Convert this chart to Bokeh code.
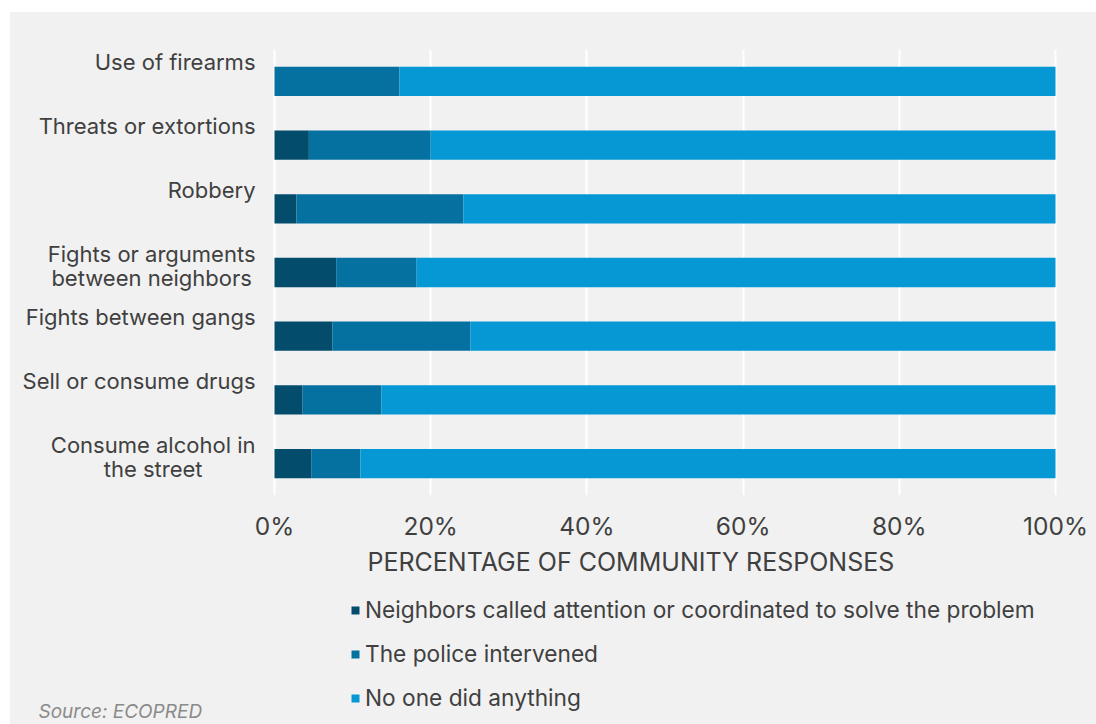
from bokeh.plotting import figure
from bokeh.models import (FactorRange, Range1d, Legend, LegendItem, Title, Label,
                          FixedTicker, PrintfTickFormatter, ColumnDataSource, Spacer)
from bokeh.layouts import column, row
from bokeh.core.properties import value
from bokeh.embed import file_html
from bokeh.resources import INLINE

# ---- data (percent of community responses) ----
categories = [
    "Use of firearms",
    "Threats or extortions",
    "Robbery",
    "Fights or arguments\nbetween neighbors",
    "Fights between gangs",
    "Sell or consume drugs",
    "Consume alcohol in\nthe street",
]
neighbors = [0.0, 4.4, 2.8, 7.9, 7.4, 3.6, 4.7]
police = [16.0, 15.6, 21.4, 10.3, 17.7, 10.1, 6.3]
no_one = [84.0, 80.0, 75.8, 81.8, 74.9, 86.3, 89.0]
series_names = [
    "Neighbors called attention or coordinated to solve the problem",
    "The police intervened",
    "No one did anything",
]
x_ticks = [0, 20, 40, 60, 80, 100]
x_title = "PERCENTAGE OF COMMUNITY RESPONSES"
source_note = "Source: ECOPRED"

colors = ["#034c6b", "#0571a0", "#0598d5"]
BG = "#f1f1f1"
TXT = "#404040"
FONT = "Inter"

W = 1086
HA, HB = 566, 146
PLOT_L, PLOT_R = 264, 1045          # pixel span of 0%..100%
px_per = (PLOT_R - PLOT_L) / 100.0

src = ColumnDataSource(dict(cat=categories, neighbors=neighbors, police=police, none=no_one,
                            zero=[0] * len(categories)))

# ---------------- main chart ----------------
p = figure(width=W, height=HA, output_backend="svg", toolbar_location=None,
           y_range=FactorRange(factors=list(reversed(categories))),
           x_range=Range1d(-PLOT_L / px_per, (W - PLOT_L) / px_per),
           min_border_left=0, min_border_right=0, min_border_top=37, min_border_bottom=0)
p.background_fill_color = None
p.border_fill_color = BG
p.outline_line_color = None

rs = p.hbar_stack(["neighbors", "police", "none"], y="cat", height=0.46, source=src,
                  fill_color=colors, line_color=None)

p.ygrid.visible = False
p.xgrid.ticker = FixedTicker(ticks=x_ticks)
p.xgrid.grid_line_color = "white"
p.xgrid.grid_line_width = 2
p.xgrid.level = "underlay"

p.yaxis.visible = False
ax = p.xaxis[0]
ax.ticker = FixedTicker(ticks=x_ticks)
ax.formatter = PrintfTickFormatter(format="%d%%")
ax.axis_line_color = None
ax.major_tick_line_color = None
ax.minor_tick_line_color = None
ax.major_tick_out = 0
ax.major_tick_in = 0
ax.major_label_standoff = 15
ax.major_label_text_font = FONT
ax.major_label_text_font_size = "24.5px"
ax.major_label_text_color = TXT

# category labels (above each bar, ending left of the 0% line)
p.text(x="zero", y="cat", text="cat", source=src, x_offset=-19, y_offset=-32,
       anchor=value("top_right"), text_align="center",
       text_font=value(FONT), text_font_size="22px", text_line_height=0.95,
       text_color=TXT)

p.add_layout(Title(text=x_title, align="left", offset=357, standoff=3, text_font=FONT,
                   text_font_style="normal", text_font_size="25px", text_color=TXT), "below")

# ---------------- legend + source strip ----------------
q = figure(width=W, height=HB, output_backend="svg", toolbar_location=None,
           x_range=Range1d(0, W), y_range=Range1d(0, HB),
           x_axis_type=None, y_axis_type=None,
           min_border_left=0, min_border_right=0, min_border_top=0, min_border_bottom=0)
q.background_fill_color = None
q.border_fill_color = BG
q.outline_line_color = None
q.grid.visible = False

# legend keys: one off-view bar per series so the legend can draw its swatch
key_rs = [q.hbar(y=[-1000], left=[0], right=[1], height=1, fill_color=c, line_color=None)
          for c in colors]
legend = Legend(items=[LegendItem(label=n, renderers=[r]) for n, r in zip(series_names, key_rs)],
                location=(340, 13), orientation="vertical")
legend.background_fill_alpha = 0
legend.border_line_color = None
legend.padding = 0
legend.margin = 0
legend.glyph_width = 10
legend.glyph_height = 10
legend.label_standoff = 5
legend.label_height = 20
legend.spacing = 17
legend.label_text_font = FONT
legend.label_text_font_size = "22.7px"
legend.label_text_color = TXT
q.add_layout(legend, "center")

q.add_layout(Label(x=28, y=13, x_units="screen", y_units="screen", text=source_note,
                   text_align="left", text_baseline="middle", text_font=FONT,
                   text_font_style="italic", text_font_size="19px", text_color="#8a8a8a"))

charts = column(p, q, styles={"background-color": BG})
layout = column(Spacer(height=12), row(Spacer(width=10), charts))
open("out.html", "w").write(file_html(layout, INLINE))
